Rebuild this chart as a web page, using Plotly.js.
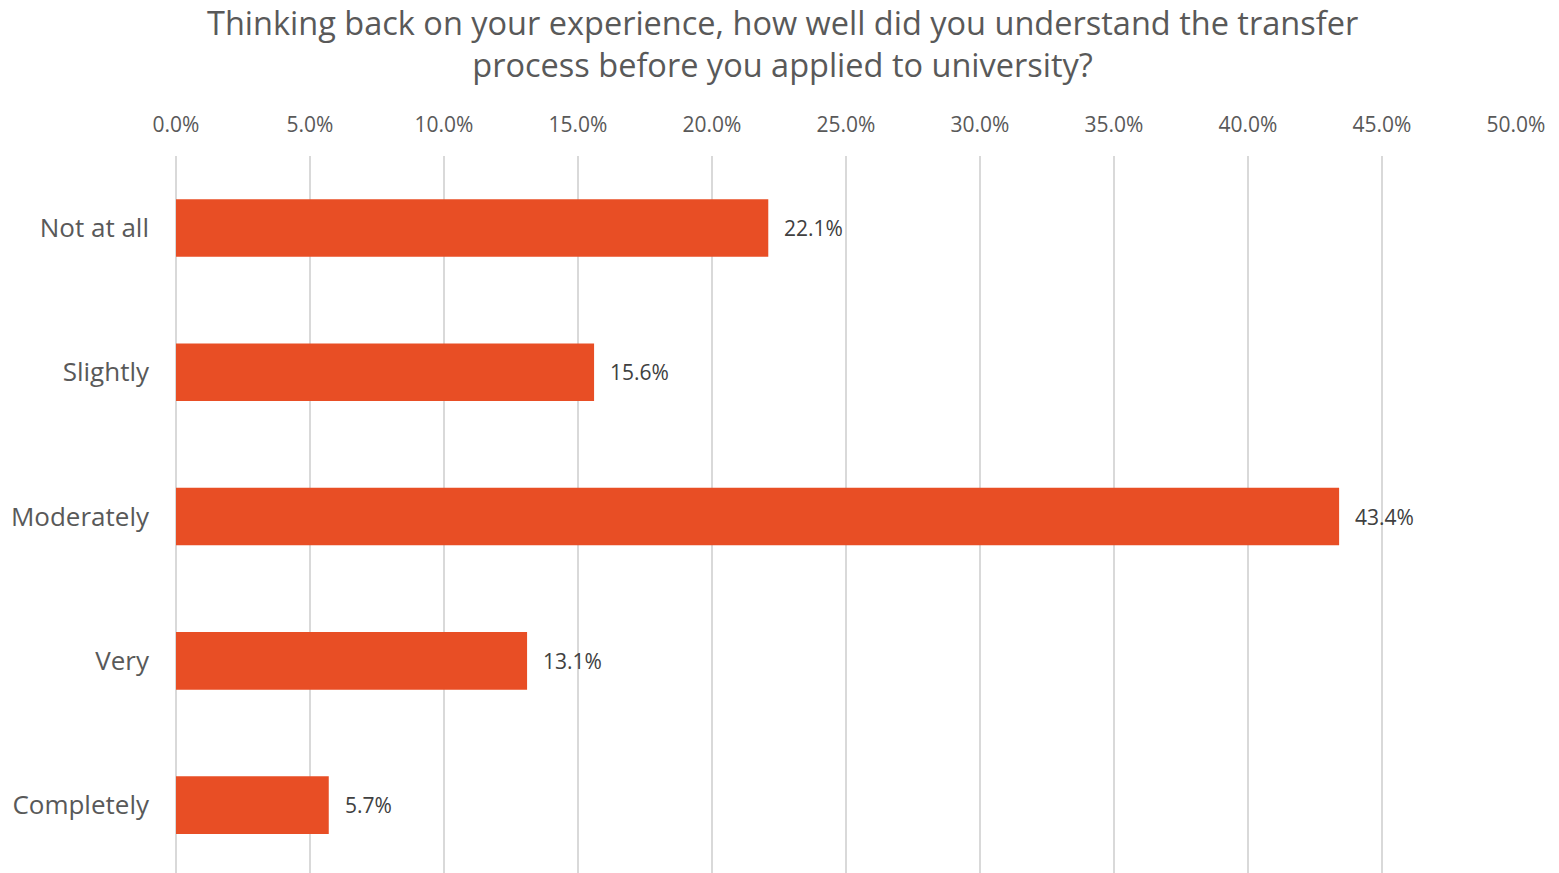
<!DOCTYPE html>
<html>
<head>
<meta charset="utf-8">
<script src="https://cdn.plot.ly/plotly-3.0.1.min.js"></script>
<style>html,body{margin:0;padding:0;background:#fff;}#chart{width:1559px;height:873px;}</style>
</head>
<body>
<div id="chart"></div>
<script>
const categories = ["Not at all", "Slightly", "Moderately", "Very", "Completely"];
const values = [22.1, 15.6, 43.4, 13.1, 5.7];
const tickValues = [0, 5, 10, 15, 20, 25, 30, 35, 40, 45, 50];
const tickLabels = ["0.0%", "5.0%", "10.0%", "15.0%", "20.0%", "25.0%", "30.0%", "35.0%", "40.0%", "45.0%", "50.0%"];
const titleText = "Thinking back on your experience, how well did you understand the transfer<br>process before you applied to university?";

const trace = {
  type: "bar",
  orientation: "h",
  x: values,
  y: categories,
  marker: {color: "#E84E25"},
  hoverinfo: "none"
};

const annotations = values.map((v, i) => ({
  x: v, y: categories[i], xref: "x", yref: "y",
  text: v.toFixed(1) + "%",
  showarrow: false, xanchor: "left", yanchor: "middle", xshift: 14,
  font: {family: "Open Sans", size: 21, color: "#404040"}
}));

const layout = {
  width: 1559, height: 873,
  margin: {l: 176, r: 43, t: 156, b: 0, pad: 0},
  paper_bgcolor: "#fff", plot_bgcolor: "#fff",
  font: {family: "Open Sans", color: "#595959"},
  title: {text: titleText, x: 0.502, xanchor: "center", y: 0.96, yanchor: "top",
          font: {family: "Open Sans", size: 32.5, color: "#595959"}},
  bargap: 0.6,
  showlegend: false,
  xaxis: {side: "top", range: [0, 50], tickvals: tickValues, ticktext: tickLabels,
          showgrid: true, gridcolor: "#d9d9d9", gridwidth: 1.5,
          zeroline: true, zerolinecolor: "#d9d9d9", zerolinewidth: 1.5,
          showline: false, ticks: "", ticklabelstandoff: 19,
          tickfont: {family: "Open Sans", size: 21, color: "#595959"}, fixedrange: true},
  yaxis: {type: "category", categoryorder: "array", categoryarray: categories,
          range: [4.471, -0.499], showgrid: false, zeroline: false, showline: false,
          ticks: "", ticklabelstandoff: 26,
          tickfont: {family: "Open Sans", size: 26, color: "#595959"}, fixedrange: true},
  annotations: annotations
};

Plotly.newPlot("chart", [trace], layout, {displayModeBar: false, staticPlot: true});
</script>
</body>
</html>
